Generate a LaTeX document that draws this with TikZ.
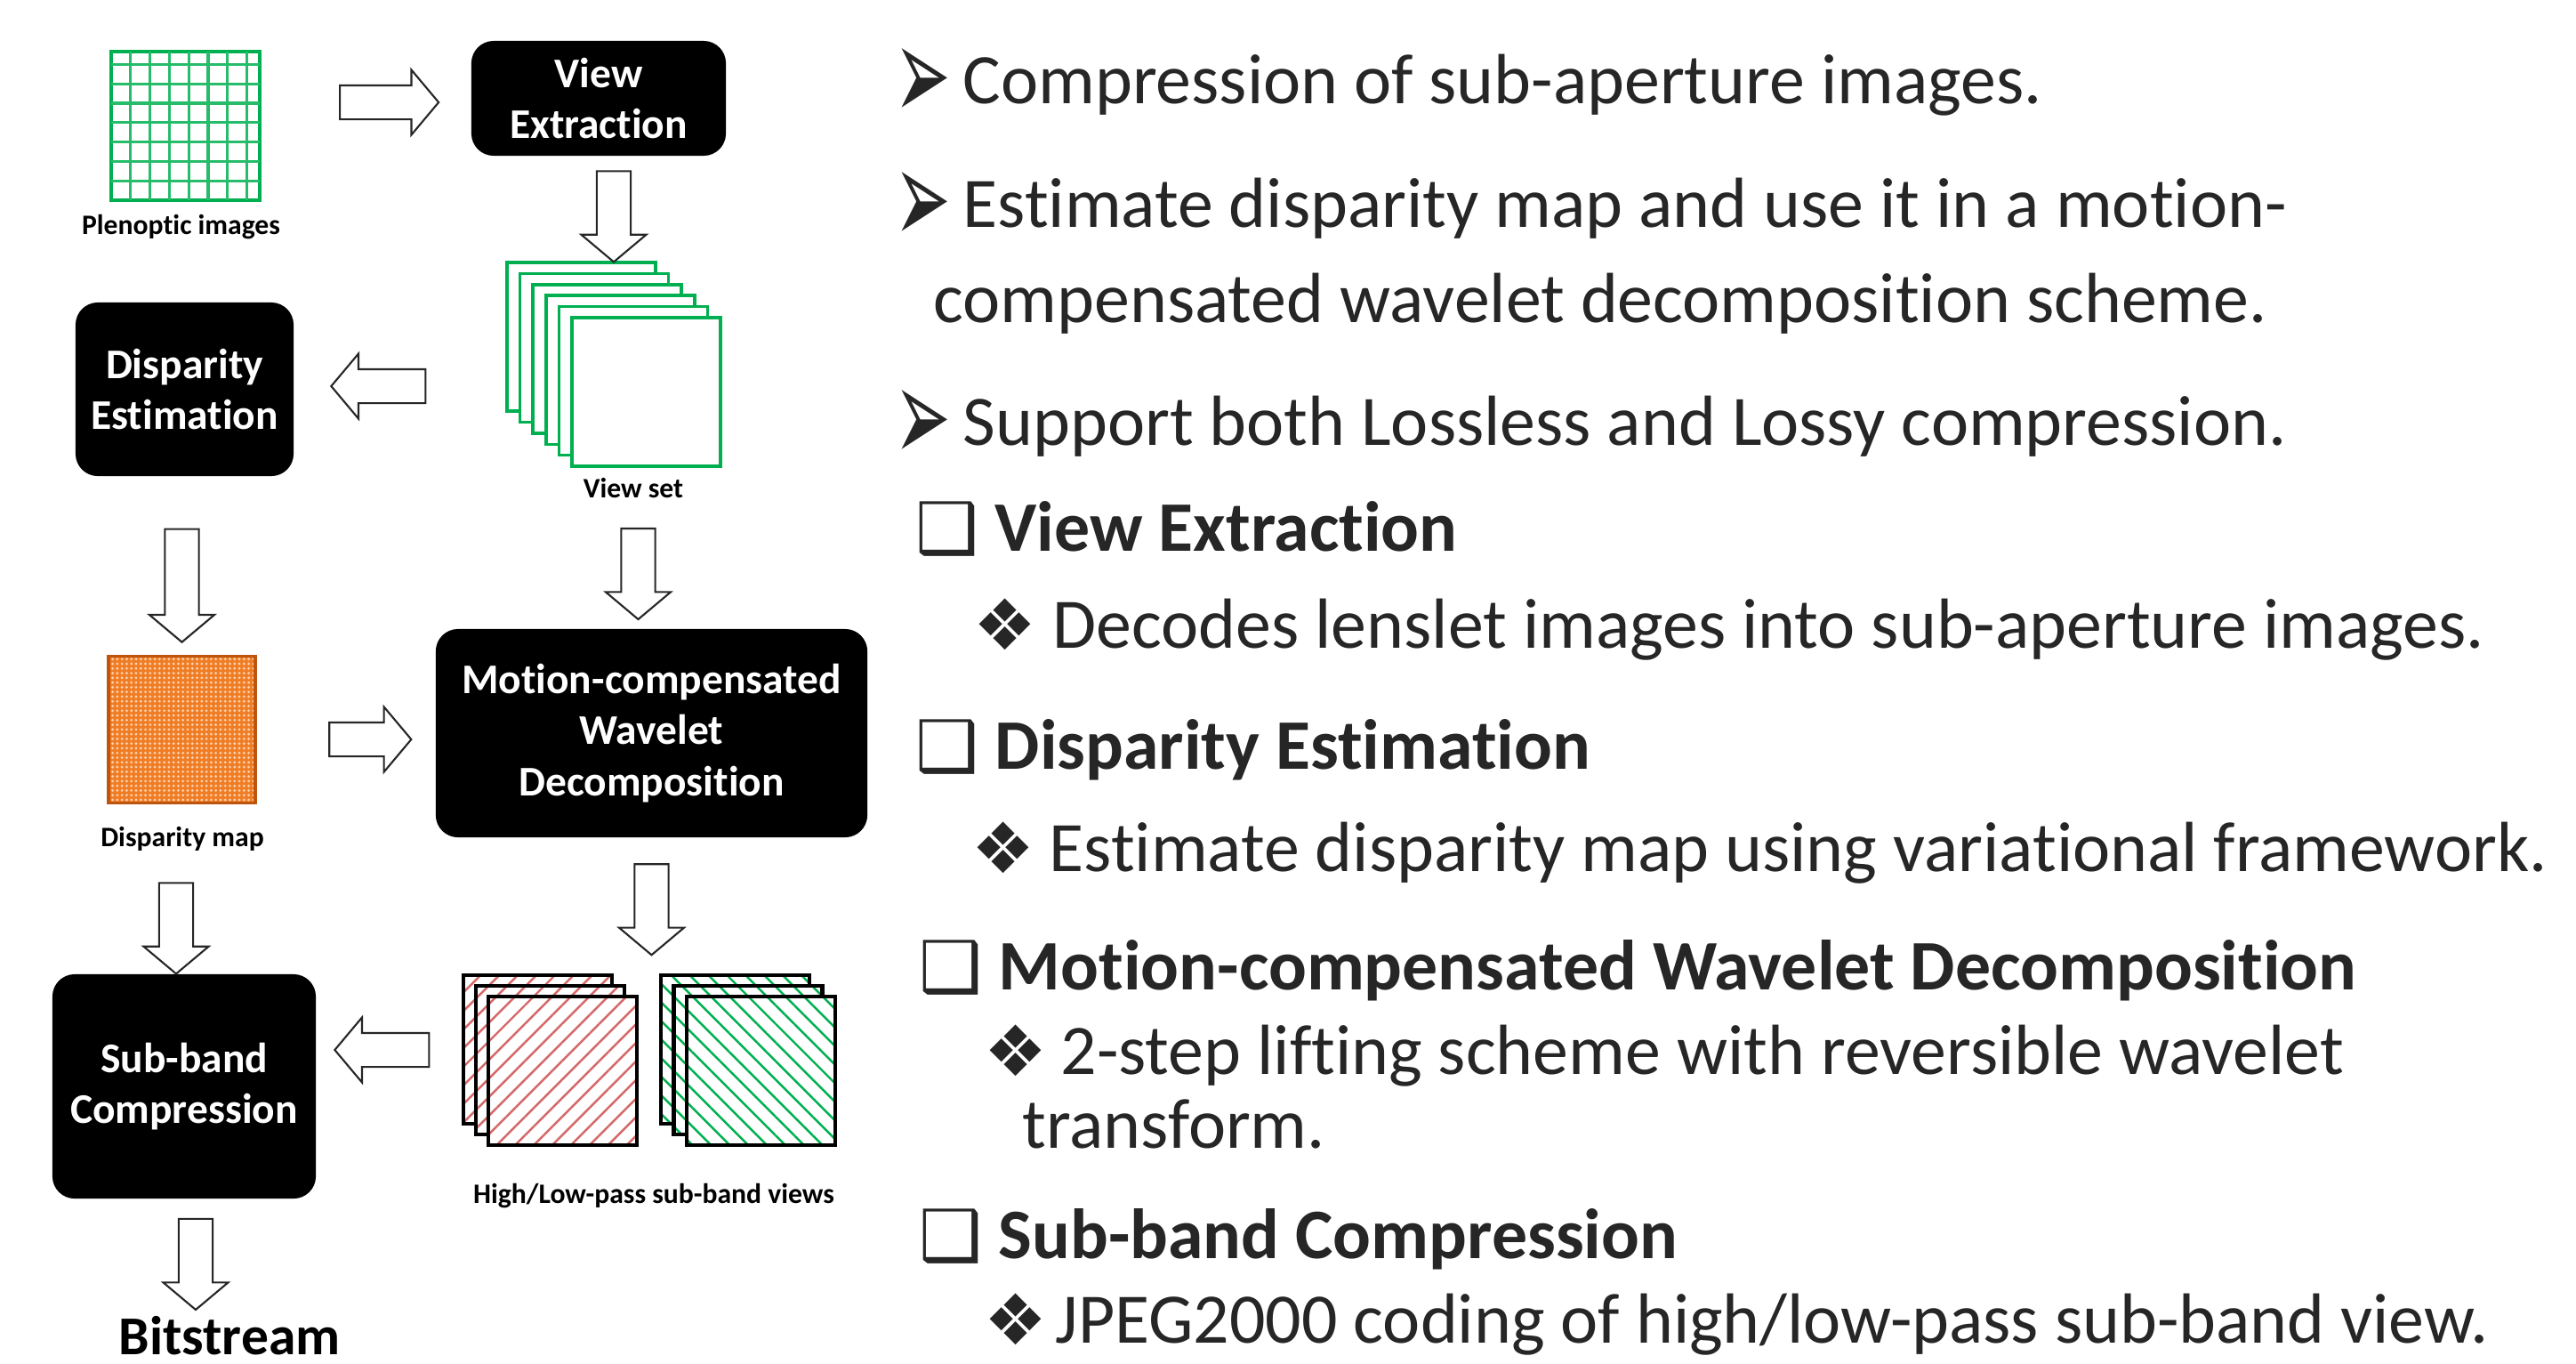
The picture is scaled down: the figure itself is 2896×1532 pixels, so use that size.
\documentclass[tikz,border=0pt]{standalone}
\usepackage{fontspec}
\setmainfont{Carlito}[Ligatures=NoCommon]
\newfontfamily\symfont{DejaVu Sans}
\usetikzlibrary{shapes.arrows,patterns.meta,positioning}

\definecolor{vgreen}{RGB}{0,176,80}
\definecolor{hred}{RGB}{214,104,104}
\definecolor{morange}{RGB}{240,125,35}
\definecolor{dorange}{RGB}{190,85,15}
\definecolor{txt}{RGB}{38,38,38}

\newcommand\arrowbullet{{\fontsize{18}{20}\selectfont\scalebox{1.2}[2.4]{➢}}}

\tikzset{
  blk/.style={fill=black, rounded corners=0.25cm, text=white, align=center, inner sep=0pt,
    font=\fontsize{13.5}{16.4}\selectfont\bfseries},
  lbl/.style={anchor=base, inner sep=0pt, font=\fontsize{9}{11}\selectfont\bfseries},
  frame/.style={draw=vgreen, line width=1pt, fill=white, minimum size=1.67cm, inner sep=0pt, outer sep=0pt},
  hiband/.style={draw=black, line width=1.2pt, minimum size=1.67cm, inner sep=0pt, outer sep=0pt,
    preaction={fill=white}, pattern={Lines[angle=45,distance=4.2pt,line width=0.7pt]}, pattern color=hred},
  loband/.style={draw=black, line width=1.2pt, minimum size=1.67cm, inner sep=0pt, outer sep=0pt,
    preaction={fill=white}, pattern={Lines[angle=-45,distance=4.2pt,line width=0.7pt]}, pattern color=vgreen},
  dmapbox/.style={draw=dorange, line width=0.9pt, minimum size=1.65cm, inner sep=0pt, outer sep=0pt,
    preaction={fill=morange}, pattern={Dots[radius=0.45pt,distance=1.5pt]}, pattern color=white!65!morange},
  fat/.style={single arrow, draw=black!85, line width=0.6pt, fill=white, minimum height=#1,
    inner xsep=0pt, inner ysep=0.18cm, single arrow head extend=0.175cm, single arrow tip angle=100,
    sloped, allow upside down},
  sym/.style={anchor=base west, inner sep=0pt, text=txt, font=\symfont\fontsize{22.5}{27}\selectfont},
  item/.style={anchor=base west, inner sep=0pt, text=txt, font=\fontsize{22.7}{27}\selectfont},
  head/.style={anchor=base west, inner sep=0pt, text=txt, font=\fontsize{22.7}{27}\selectfont\bfseries},
}

\begin{document}
\begin{tikzpicture}[x=0.01cm,y=-0.01cm]
\useasboundingbox (0,0) rectangle (2896,1532);

% plenoptic images
\node[frame, line width=1.2pt] (pleno) at (208.5,141.5) {};
\foreach \i in {1,...,7} {
  \draw[vgreen!85, line width=0.9pt] ([xshift=\i*0.218cm]pleno.south west) -- ([xshift=\i*0.218cm]pleno.north west);
  \draw[vgreen!85, line width=0.9pt] ([yshift=\i*0.218cm]pleno.south west) -- ([yshift=\i*0.218cm]pleno.south east);
}
\node[lbl] (plab) at (203.5,263) {Plenoptic images};

% processing blocks
\node[blk, minimum width=2.86cm, minimum height=1.29cm] (ve) at (673,110.5) {View\\Extraction};
\node[blk, minimum width=2.45cm, minimum height=1.95cm] (de) at (207.5,437.5) {Disparity\\Estimation};
\node[blk, minimum width=4.85cm, minimum height=2.34cm] (mc) at (732.5,824) {Motion-compensated\\Wavelet\\Decomposition};
\node[blk, minimum width=2.96cm, minimum height=2.52cm] (sbc) at (207,1221) {Sub-band\\Compression};

% view set
\foreach \i in {0,...,5}
  \node[frame] (vs\i) at (653.5+14.6*\i,378.5+12.4*\i) {};
\node[lbl] (vlab) at (712,559) {View set};

% disparity map
\node[dmapbox] (dmap) at (204.5,820) {};
\node[lbl] (dlab) at (205,951) {Disparity map};

% sub-band views
\foreach \i in {0,1,2}
  \node[hiband] (hv\i) at (604.5+14*\i,1179.5+12*\i) {};
\foreach \i in {0,1,2}
  \node[loband] (lv\i) at (826.5+14.5*\i,1179.5+12*\i) {};
\node[lbl] (blab) at (735,1352) {High/Low-pass sub-band views};

\node[anchor=base, inner sep=0pt, font=\fontsize{17.5}{20}\selectfont\bfseries] (bits) at (258,1522) {Bitstream};

% block arrows
\path (pleno.east |- 0,115) -- node[fat=1.11cm, pos=0.58] {} (ve.west |- 0,115);
\path (ve.south -| 690,0) -- node[fat=1.02cm, pos=0.5] {} (vs0.north -| 690,0);
\path (vs0.west |- 0,434) -- node[fat=1.06cm, pos=0.571] {} (de.east |- 0,434);
\path (de.south -| dmap.north) -- node[fat=1.27cm, pos=0.567] {} (dmap.north);
\path (vs5.south -| 717.5,0) -- node[fat=1.02cm, pos=0.62] {} (mc.north -| 717.5,0);
\path (dmap.east |- 0,831) -- node[fat=0.92cm, pos=0.6] {} (mc.west |- 0,831);
\path (mc.south) -- node[fat=1.02cm, pos=0.47] {} (mc.south |- hv0.north);
\path (dmap.south -| 198,0) -- node[fat=1.02cm, pos=0.693] {} (sbc.north -| 198,0);
\path (hv0.west |- 0,1180) -- node[fat=1.06cm, pos=0.506] {} (sbc.east |- 0,1180);
\path (sbc.south -| 220,0) -- node[fat=1.02cm, pos=0.5] {} (bits.north -| 220,0);

% right column
\node[sym] (m1) at (1005,135) {\arrowbullet};
\node[item] (t1) at (1082,116) {Compression of sub-aperture images.};
\node[sym] (m2) at (1005,274) {\arrowbullet};
\node[item] (t2) at (1082,255) {Estimate disparity map and use it in a motion-};
\node[item] (t2b) at (1049,362) {compensated wavelet decomposition scheme.};
\node[sym] (m3) at (1005,519) {\arrowbullet};
\node[item] (t3) at (1082,500) {Support both Lossless and Lossy compression.};

\node[sym] (q1) at (1029,621) {❑};
\node[head] (h1) at (1118,619) {View Extraction};
\node[sym] (d1) at (1094,730) {❖};
\node[item] (s1) at (1183,728) {Decodes lenslet images into sub-aperture images.};
\node[sym] (q2) at (1029,866) {❑};
\node[head] (h2) at (1118,864) {Disparity Estimation};
\node[sym] (d2) at (1092,981) {❖};
\node[item] (s2) at (1179,979) {Estimate disparity map using variational framework.};
\node[sym] (q3) at (1033,1114) {❑};
\node[head] (h3) at (1122,1112) {Motion-compensated Wavelet Decomposition};
\node[sym] (d3) at (1106,1209) {❖};
\node[item] (s3) at (1192,1207) {2-step lifting scheme with reversible wavelet};
\node[item] (s3b) at (1149,1290) {transform.};
\node[sym] (q4) at (1033,1416) {❑};
\node[head] (h4) at (1122,1414) {Sub-band Compression};
\node[sym] (d4) at (1106,1511) {❖};
\node[item] (s4) at (1186,1509) {JPEG2000 coding of high/low-pass sub-band view.};
\end{tikzpicture}
\end{document}
